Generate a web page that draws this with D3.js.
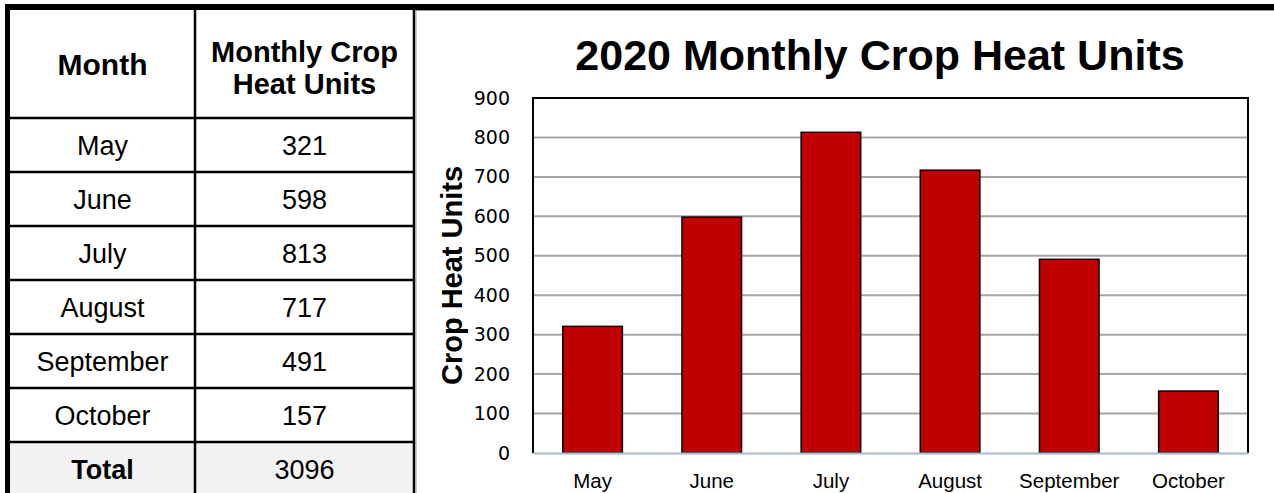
<!DOCTYPE html>
<html>
<head>
<meta charset="utf-8">
<script src="https://cdn.jsdelivr.net/npm/d3@7"></script>
<style>
  html, body { margin: 0; padding: 0; background: #fff; }
  svg { display: block; }
</style>
</head>
<body>
<svg id="chart" width="1274" height="493"></svg>
<script>
// Monthly crop heat units, 2020 season
const months = ["May", "June", "July", "August", "September", "October"];
const heatUnits = [321, 598, 813, 717, 491, 157];
const totalLabel = "Total";
const totalValue = 3096;
const tableHeaders = ["Month", ["Monthly Crop", "Heat Units"]];
const yTicks = [0, 100, 200, 300, 400, 500, 600, 700, 800, 900];
const chartTitle = "2020 Monthly Crop Heat Units";
const yAxisTitle = "Crop Heat Units";

const svg = d3.select("#chart");
const W = 1274, H = 493;

// ---------- table ----------
const tbl = { left: 10, right: 414, top: 10, divider: 195, headerBottom: 118, rowH: 54 };
const rows = months.map((m, i) => ({ label: m, value: heatUnits[i], bold: false }));
rows.push({ label: totalLabel, value: totalValue, bold: true });

const rowY = d3.scaleLinear().domain([0, 1]).range([tbl.headerBottom, tbl.headerBottom + tbl.rowH]);
const col1 = (tbl.left + tbl.divider) / 2;
const col2 = (tbl.divider + tbl.right) / 2;

const tg = svg.append("g").attr("class", "table");

// shaded total row
tg.append("rect")
  .attr("x", tbl.left).attr("y", rowY(rows.length - 1))
  .attr("width", tbl.right - tbl.left).attr("height", H - rowY(rows.length - 1))
  .attr("fill", "#f2f2f2");

// header text
tg.append("text")
  .attr("x", col1).attr("y", 75)
  .attr("text-anchor", "middle")
  .attr("font-family", "Liberation Sans, Arial, sans-serif")
  .attr("font-weight", "bold").attr("font-size", 30)
  .text(tableHeaders[0]);
tableHeaders[1].forEach((line, i) => {
  tg.append("text")
    .attr("x", col2).attr("y", 62 + i * 32)
    .attr("text-anchor", "middle")
    .attr("font-family", "Liberation Sans, Arial, sans-serif")
    .attr("font-weight", "bold").attr("font-size", 29)
    .text(line);
});

// body rows
const rg = tg.selectAll("g.row").data(rows).join("g").attr("class", "row");
rg.append("text")
  .attr("x", col1)
  .attr("y", (d, i) => rowY(i + 0.5) + 10)
  .attr("text-anchor", "middle")
  .attr("font-family", "Liberation Sans, Arial, sans-serif")
  .attr("font-size", 27)
  .attr("font-weight", d => d.bold ? "bold" : "normal")
  .text(d => d.label);
rg.append("text")
  .attr("x", col2)
  .attr("y", (d, i) => rowY(i + 0.5) + 10)
  .attr("text-anchor", "middle")
  .attr("font-family", "Liberation Sans, Arial, sans-serif")
  .attr("font-size", 27)
  .text(d => d.value);

// grid lines of the table
const hLines = d3.range(rows.length).map(i => rowY(i));
tg.selectAll("line.h").data(hLines).join("line")
  .attr("x1", tbl.left).attr("x2", tbl.right)
  .attr("y1", d => d).attr("y2", d => d)
  .attr("stroke", "#000").attr("stroke-width", 2.5);
tg.append("line")
  .attr("x1", tbl.divider).attr("x2", tbl.divider)
  .attr("y1", tbl.top).attr("y2", H)
  .attr("stroke", "#000").attr("stroke-width", 2.5);
tg.append("line")
  .attr("x1", tbl.right).attr("x2", tbl.right)
  .attr("y1", tbl.top).attr("y2", H)
  .attr("stroke", "#000").attr("stroke-width", 2.5);
tg.append("line")
  .attr("x1", tbl.right + 2).attr("x2", tbl.right + 2)
  .attr("y1", tbl.top).attr("y2", H)
  .attr("stroke", "#9a9a9a").attr("stroke-width", 1);

// heavy outer frame: top across the full width, left down the page
svg.append("line")
  .attr("x1", 5).attr("x2", W).attr("y1", 7).attr("y2", 7)
  .attr("stroke", "#000").attr("stroke-width", 6);
svg.append("line")
  .attr("x1", tbl.right + 2).attr("x2", W).attr("y1", 10.5).attr("y2", 10.5)
  .attr("stroke", "#9a9a9a").attr("stroke-width", 1);
svg.append("line")
  .attr("x1", 7.5).attr("x2", 7.5).attr("y1", 4).attr("y2", H)
  .attr("stroke", "#000").attr("stroke-width", 5);

// ---------- bar chart ----------
const plot = { left: 533, right: 1248, top: 98, bottom: 453 };

const x = d3.scaleBand()
  .domain(months)
  .range([plot.left, plot.right])
  .paddingInner(0.5)
  .paddingOuter(0.25);

const y = d3.scaleLinear()
  .domain([0, 900])
  .range([plot.bottom, plot.top]);

const cg = svg.append("g").attr("class", "chart");

// title
cg.append("text")
  .attr("x", 880).attr("y", 70)
  .attr("text-anchor", "middle")
  .attr("font-family", "Liberation Sans, Arial, sans-serif")
  .attr("font-weight", "bold").attr("font-size", 43)
  .text(chartTitle);

// horizontal gridlines
cg.append("g")
  .selectAll("line")
  .data(yTicks.filter(t => t > 0 && t < 900))
  .join("line")
  .attr("x1", plot.left).attr("x2", plot.right)
  .attr("y1", d => y(d)).attr("y2", d => y(d))
  .attr("stroke", "#a6a6a6").attr("stroke-width", 2);

// y axis tick labels
const yAxis = d3.axisLeft(y).tickValues(yTicks).tickSize(0).tickPadding(23);
const yg = cg.append("g")
  .attr("transform", `translate(${plot.left},0)`)
  .call(yAxis);
yg.select(".domain").remove();
yg.selectAll("text")
  .attr("font-family", "DejaVu Sans, sans-serif")
  .attr("font-size", 19)
  .attr("fill", "#000");

// bars
cg.append("g")
  .selectAll("rect")
  .data(months.map((m, i) => ({ m, v: heatUnits[i] })))
  .join("rect")
  .attr("x", d => x(d.m))
  .attr("y", d => y(d.v))
  .attr("width", x.bandwidth())
  .attr("height", d => y(0) - y(d.v))
  .attr("fill", "#c00000")
  .attr("stroke", "#000")
  .attr("stroke-width", 1.5);

// plot frame: black top, left and right edges
cg.append("path")
  .attr("d", `M${plot.left},${plot.bottom}V${plot.top}H${plot.right}V${plot.bottom}`)
  .attr("fill", "none")
  .attr("stroke", "#000").attr("stroke-width", 2);

// category axis
const xAxis = d3.axisBottom(x).tickSize(0).tickPadding(20);
const xg = cg.append("g")
  .attr("transform", `translate(0,${plot.bottom})`)
  .call(xAxis);
xg.select(".domain")
  .attr("stroke", "#a9b8cb").attr("stroke-width", 2);
xg.selectAll("text")
  .attr("font-family", "Liberation Sans, Arial, sans-serif")
  .attr("font-size", 20.5)
  .attr("fill", "#000");

// y axis title
cg.append("text")
  .attr("transform", `translate(462,${(plot.top + plot.bottom) / 2}) rotate(-90)`)
  .attr("text-anchor", "middle")
  .attr("font-family", "Liberation Sans, Arial, sans-serif")
  .attr("font-weight", "bold").attr("font-size", 29)
  .text(yAxisTitle);
</script>
</body>
</html>
